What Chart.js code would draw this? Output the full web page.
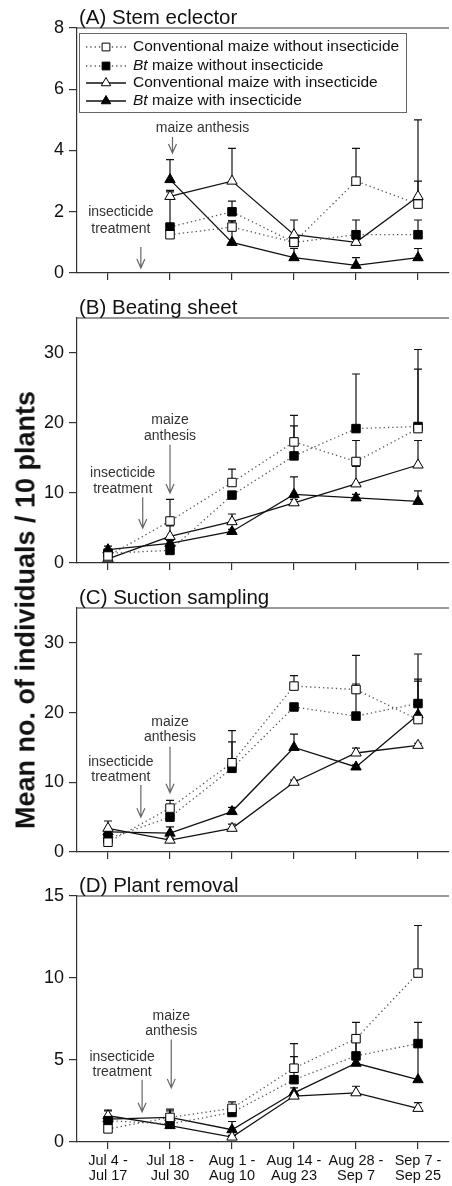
<!DOCTYPE html>
<html>
<head>
<meta charset="utf-8">
<script src="https://cdn.jsdelivr.net/npm/chart.js@4.4.1/dist/chart.umd.min.js"></script>
<style>
  html, body { margin: 0; padding: 0; background: #fff; overflow: hidden; }
  #page { position: relative; width: 452px; height: 1186px; overflow: hidden; background: #fff; }
  canvas { position: absolute; left: 0; }
  #ytitle {
    position: absolute; left: 26px; top: 610px;
    transform: translate(-50%, -50%) rotate(-90deg);
    font: bold 27px 'Liberation Sans', Arial, sans-serif;
    line-height: 1; white-space: nowrap; color: #111;
  }
</style>
</head>
<body>
<div id="page">
  <canvas id="chartA" width="456" height="281" style="top:0px"></canvas>
  <canvas id="chartB" width="456" height="286" style="top:285px"></canvas>
  <canvas id="chartC" width="456" height="285" style="top:575px"></canvas>
  <canvas id="chartD" width="456" height="324" style="top:862px"></canvas>
  <div id="ytitle">Mean no. of individuals / 10 plants</div>
</div>
<script>
const periods = [
  ['Jul 4 -', 'Jul 17'], ['Jul 18 -', 'Jul 30'], ['Aug 1 -', 'Aug 10'],
  ['Aug 14 -', 'Aug 23'], ['Aug 28 -', 'Sep 7'], ['Sep 7 -', 'Sep 25']
];
const seriesNames = [
  'Conventional maize without insecticide',
  'Bt maize without insecticide',
  'Conventional maize with insecticide',
  'Bt maize with insecticide'
];

// (A) Stem eclector - no sampling in the first period
const stemConvNo = [null, 1.25, 1.5, 1.0, 3.0, 2.25];
const stemConvNoSE = [null, 0.1, 0.2, 0.1, 1.07, 0.75];
const stemBtNo = [null, 1.5, 2.0, 1.0, 1.25, 1.25];
const stemBtNoSE = [null, 1.2, 0.35, 0.1, 0.48, 0.48];
const stemConvIns = [null, 2.5, 3.0, 1.25, 1.0, 2.5];
const stemConvInsSE = [null, 0.15, 1.07, 0.48, 0.1, 2.5];
const stemBtIns = [null, 3.05, 1.0, 0.5, 0.25, 0.5];
const stemBtInsSE = [null, 0.65, 0.7, 0.3, 0.25, 0.3];

// (B) Beating sheet
const beatConvNo = [1.0, 6.0, 11.5, 17.3, 14.5, 19.2];
const beatConvNoSE = [0.3, 3.1, 1.9, 3.8, 3.0, 8.5];
const beatBtNo = [1.4, 1.8, 9.7, 15.3, 19.2, 19.5];
const beatBtNoSE = [0.3, 0.3, 0.5, 4.3, 7.8, 11.0];
const beatConvIns = [0.6, 3.8, 5.9, 8.6, 11.3, 14.0];
const beatConvInsSE = [0.3, 1.5, 1.1, 0.5, 2.5, 3.5];
const beatBtIns = [1.9, 2.8, 4.5, 9.8, 9.3, 8.8];
const beatBtInsSE = [0.5, 0.4, 0.3, 2.5, 0.5, 1.5];

// (C) Suction sampling
const suctConvNo = [1.4, 6.3, 12.8, 23.8, 23.3, 19.0];
const suctConvNoSE = [0.2, 1.1, 3.0, 1.5, 4.9, 5.8];
const suctBtNo = [1.9, 5.0, 12.0, 20.8, 19.5, 21.3];
const suctBtNoSE = [0.2, 0.3, 5.4, 0.5, 4.6, 7.1];
const suctConvIns = [3.4, 1.7, 3.4, 10.0, 14.2, 15.3];
const suctConvInsSE = [1.05, 0.3, 0.6, 0.3, 0.7, 0.3];
const suctBtIns = [2.9, 2.7, 5.8, 15.0, 12.2, 19.7];
const suctBtInsSE = [0.3, 0.9, 0.6, 1.9, 0.3, 4.8];

// (D) Plant removal
const remConvNo = [0.8, 1.5, 2.05, 4.5, 6.3, 10.3];
const remConvNoSE = [0.1, 0.4, 0.4, 1.5, 1.0, 2.9];
const remBtNo = [1.3, 1.1, 1.8, 3.8, 5.25, 6.0];
const remBtNoSE = [0.2, 0.2, 0.2, 1.4, 1.15, 1.3];
const remConvIns = [1.6, 1.0, 0.3, 2.8, 3.0, 2.05];
const remConvInsSE = [0.3, 0.2, 0.1, 0.2, 0.4, 0.35];
const remBtIns = [1.4, 1.5, 0.75, 3.0, 4.8, 3.8];
const remBtInsSE = [0.55, 0.5, 0.5, 0.3, 1.6, 2.1];

const FONT = "'Liberation Sans', Arial, Helvetica, sans-serif";
Chart.defaults.font.family = FONT;
Chart.defaults.color = '#111';

// marker look for the four treatments
const markerStyle = ['rect', 'rect', 'triangle', 'triangle'];
const markerFill = ['#fff', '#000', '#fff', '#000'];
const lineColor = ['#555', '#555', '#111', '#111'];
const lineDash = [[1.3, 3], [1.3, 3], [], []];

function drawArrow(ctx, x, y0, y1) {
  ctx.beginPath();
  ctx.moveTo(x, y0);
  ctx.lineTo(x, y1);
  ctx.moveTo(x - 4, y1 - 9);
  ctx.lineTo(x, y1);
  ctx.lineTo(x + 4, y1 - 9);
  ctx.stroke();
}

function drawLegend(ctx) {
  const rows = [47, 66, 83, 101];
  ctx.save();
  ctx.fillStyle = '#fff';
  ctx.fillRect(79.5, 33.5, 327, 79);
  ctx.strokeStyle = '#666';
  ctx.lineWidth = 1;
  ctx.strokeRect(79.5, 33.5, 327, 79);
  rows.forEach((y, i) => {
    ctx.strokeStyle = lineColor[i];
    ctx.lineWidth = 1.3;
    ctx.setLineDash(lineDash[i]);
    ctx.beginPath();
    ctx.moveTo(86, y);
    ctx.lineTo(126, y);
    ctx.stroke();
    ctx.setLineDash([]);
    ctx.fillStyle = markerFill[i];
    ctx.strokeStyle = '#000';
    ctx.lineWidth = 1;
    Chart.helpers.drawPoint(ctx, { pointStyle: markerStyle[i], radius: 5.5, borderWidth: 1, rotation: 0 }, 106, y);

    ctx.fillStyle = '#111';
    ctx.textBaseline = 'middle';
    let x = 133;
    let text = seriesNames[i];
    if (text.startsWith('Bt')) {
      ctx.font = 'italic 15.5px ' + FONT;
      ctx.fillText('Bt', x, y);
      x += ctx.measureText('Bt ').width;
      text = text.slice(3);
    }
    ctx.font = '15.5px ' + FONT;
    ctx.fillText(text, x, y);
  });
  ctx.restore();
}

const panelDecor = {
  id: 'panelDecor',
  beforeDatasetsDraw(chart) {
    const { ctx, scales: { y } } = chart;
    ctx.save();
    ctx.strokeStyle = '#111';
    ctx.lineWidth = 1.2;
    chart.data.datasets.forEach((ds, i) => {
      chart.getDatasetMeta(i).data.forEach((pt, j) => {
        const m = ds.data[j];
        const e = ds.se[j];
        if (m == null || !e) return;
        const top = y.getPixelForValue(m + e);
        ctx.beginPath();
        ctx.moveTo(pt.x, pt.y);
        ctx.lineTo(pt.x, top);
        ctx.moveTo(pt.x - 4, top);
        ctx.lineTo(pt.x + 4, top);
        ctx.stroke();
      });
    });
    ctx.restore();
  },
  afterDraw(chart, args, opts) {
    const { ctx, chartArea: area, scales: { x, y } } = chart;
    ctx.save();
    // top frame line
    ctx.strokeStyle = '#333';
    ctx.lineWidth = 1.2;
    ctx.beginPath();
    ctx.moveTo(area.left, area.top);
    ctx.lineTo(area.right, area.top);
    ctx.stroke();

    ctx.fillStyle = '#111';
    ctx.font = '20.5px ' + FONT;
    ctx.textBaseline = 'alphabetic';
    ctx.textAlign = 'left';
    ctx.fillText(opts.title, area.left + 2, area.top - 4);

    // insecticide / anthesis arrows
    opts.notes.forEach(n => {
      const px = x.getPixelForValue(n.at);
      const y0 = y.getPixelForValue(n.from);
      const y1 = y.getPixelForValue(n.to);
      ctx.strokeStyle = '#666';
      ctx.lineWidth = 1.2;
      drawArrow(ctx, px, y0, y1);
      ctx.fillStyle = '#333';
      ctx.font = '14px ' + FONT;
      ctx.textAlign = 'center';
      ctx.textBaseline = 'middle';
      n.lines.forEach((t, k) => ctx.fillText(t, px + n.dx, y0 + n.dy[k]));
    });
    ctx.restore();
    if (opts.legend) drawLegend(ctx);
  }
};

function makePanel(id, p) {
  return new Chart(document.getElementById(id), {
    type: 'line',
    data: {
      labels: periods,
      datasets: p.series.map((s, i) => ({
        label: seriesNames[i],
        data: s[0],
        se: s[1],
        borderColor: lineColor[i],
        borderDash: lineDash[i],
        borderWidth: 1.3,
        tension: 0,
        pointStyle: markerStyle[i],
        pointRadius: 6,
        pointBackgroundColor: markerFill[i],
        pointBorderColor: '#000',
        pointBorderWidth: 1
      }))
    },
    options: {
      responsive: false,
      animation: false,
      devicePixelRatio: 1,
      layout: { padding: { top: p.padTop, left: 0, right: 1, bottom: 0 } },
      plugins: {
        legend: { display: false },
        tooltip: { enabled: false },
        panelDecor: { title: p.title, notes: p.notes, legend: !!p.legend }
      },
      scales: {
        x: {
          offset: true,
          grid: { drawOnChartArea: false, drawTicks: true, tickLength: 7, color: '#333', lineWidth: 1.2 },
          border: { display: true, color: '#333', width: 1.2 },
          ticks: {
            display: !!p.labels, autoSkip: false, maxRotation: 0, padding: 4,
            color: '#111', font: { size: 14.5, lineHeight: 1.05 }
          },
          afterFit: s => { s.height = p.xHeight; s.paddingLeft = 0; s.paddingRight = 0; }
        },
        y: {
          min: 0,
          max: p.max,
          grid: { drawOnChartArea: false, drawTicks: true, tickLength: 8, color: '#333', lineWidth: 1.2 },
          border: { display: true, color: '#333', width: 1.2 },
          ticks: { stepSize: p.step, includeBounds: false, padding: 5, color: '#111', font: { size: 18 } },
          afterFit: s => { s.width = 77; s.paddingTop = 0; s.paddingBottom = 0; }
        }
      }
    },
    plugins: [panelDecor]
  });
}

makePanel('chartA', {
  title: '(A) Stem eclector', max: 8, step: 2, padTop: 28, xHeight: 8, legend: true,
  series: [[stemConvNo, stemConvNoSE], [stemBtNo, stemBtNoSE], [stemConvIns, stemConvInsSE], [stemBtIns, stemBtInsSE]],
  notes: [
    { at: 0.53, from: 0.85, to: 0.16, dx: -20, dy: [-35, -18], lines: ['insecticide', 'treatment'] },
    { at: 1.04, from: 4.44, to: 3.92, dx: 30, dy: [-9], lines: ['maize anthesis'] }
  ]
});

makePanel('chartB', {
  title: '(B) Beating sheet', max: 35, step: 10, padTop: 33, xHeight: 8,
  series: [[beatConvNo, beatConvNoSE], [beatBtNo, beatBtNoSE], [beatConvIns, beatConvInsSE], [beatBtIns, beatBtInsSE]],
  notes: [
    { at: 0.56, from: 9.4, to: 5.0, dx: -20, dy: [-24, -8], lines: ['insecticide', 'treatment'] },
    { at: 1.0, from: 16.9, to: 10.0, dx: 0, dy: [-25, -9], lines: ['maize', 'anthesis'] }
  ]
});

makePanel('chartC', {
  title: '(C) Suction sampling', max: 35, step: 10, padTop: 33, xHeight: 8,
  series: [[suctConvNo, suctConvNoSE], [suctBtNo, suctBtNoSE], [suctConvIns, suctConvInsSE], [suctBtIns, suctBtInsSE]],
  notes: [
    { at: 0.53, from: 9.6, to: 5.0, dx: -20, dy: [-23, -8], lines: ['insecticide', 'treatment'] },
    { at: 1.0, from: 15.1, to: 8.5, dx: 0, dy: [-25, -10], lines: ['maize', 'anthesis'] }
  ]
});

makePanel('chartD', {
  title: '(D) Plant removal', max: 15, step: 5, padTop: 34, xHeight: 44, labels: true,
  series: [[remConvNo, remConvNoSE], [remBtNo, remBtNoSE], [remConvIns, remConvInsSE], [remBtIns, remBtInsSE]],
  notes: [
    { at: 0.55, from: 3.8, to: 1.85, dx: -20, dy: [-23, -8], lines: ['insecticide', 'treatment'] },
    { at: 1.02, from: 6.25, to: 3.3, dx: 0, dy: [-23, -8], lines: ['maize', 'anthesis'] }
  ]
});
</script>
</body>
</html>
